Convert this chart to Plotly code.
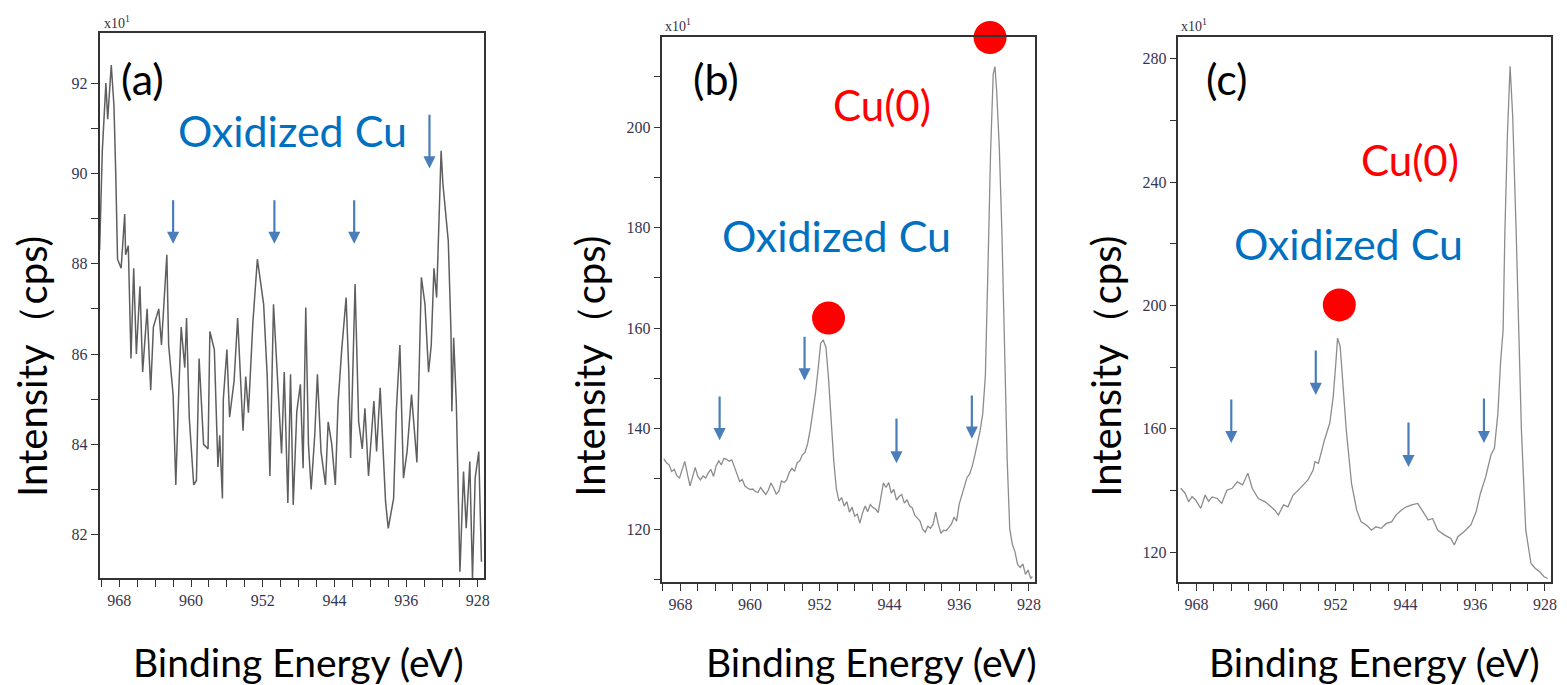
import plotly.graph_objects as go

W, H = 1567, 685

# ---------------- data ----------------
energy_a = [970.2, 969.9, 969.5, 969.3, 968.9, 968.6, 968.4, 968.2, 967.8, 967.4, 967.3, 967.0,
            966.7, 966.4, 966.1, 965.7, 965.4, 964.9, 964.5, 964.2, 963.6, 963.3, 962.7, 962.5,
            962.0, 961.7, 961.4, 961.1, 960.7, 960.5, 960.2, 959.7, 959.4, 959.1, 958.6, 958.1,
            957.9, 957.4, 957.0, 956.8, 956.5, 956.4, 956.0, 955.7, 955.2, 954.8, 954.2, 953.9,
            953.6, 953.1, 952.6, 952.2, 951.9, 951.5, 951.2, 950.8, 950.3, 949.9, 949.6, 949.2,
            948.9, 948.6, 948.2, 947.8, 947.5, 947.2, 946.9, 946.6, 946.2, 945.9, 945.5, 945.0,
            944.7, 944.3, 943.9, 943.6, 943.2, 942.7, 942.4, 942.2, 941.7, 941.3, 940.9, 940.6,
            940.2, 939.6, 939.3, 938.9, 938.3, 938.0, 937.4, 937.1, 936.7, 936.3, 935.9, 935.4,
            934.8, 934.3, 933.9, 933.5, 933.2, 932.9, 932.6, 932.3, 932.1, 931.9, 931.6, 931.3,
            931.0, 930.9, 930.7, 930.4, 930.0, 929.6, 929.3, 928.9, 928.6, 928.3, 927.9, 927.6]
intensity_a = [88.3, 90.5, 92.0, 91.2, 92.4, 91.5, 90.0, 88.1, 87.9, 89.1, 88.2, 88.4,
               85.9, 87.9, 86.0, 87.5, 85.6, 87.0, 85.2, 86.6, 87.0, 86.2, 88.2, 86.2,
               85.1, 83.1, 85.0, 86.6, 85.7, 86.8, 84.6, 83.1, 83.2, 85.9, 84.0, 83.9,
               86.5, 86.1, 83.5, 84.2, 82.8, 85.0, 86.1, 84.6, 85.4, 86.8, 84.3, 85.5,
               84.7, 86.7, 88.1, 87.5, 87.1, 85.5, 83.3, 87.1, 85.3, 83.8, 85.6, 82.7,
               85.55, 82.66, 84.73, 85.33, 83.47, 87.03, 84.0, 83.0, 84.2, 85.55, 83.84, 83.1,
               84.5, 84.0, 83.1, 84.9, 86.07, 87.25, 85.6, 83.7, 87.55, 84.5, 83.9, 84.8,
               83.3, 84.96, 83.84, 85.25, 82.73, 82.14, 82.8, 84.73, 86.2, 83.25, 83.84, 85.1,
               83.6, 87.7, 87.1, 85.6, 86.2, 87.9, 87.25, 89.2, 90.5, 89.77, 89.2, 88.5,
               86.5, 84.73, 86.36, 84.88, 81.18, 83.4, 82.14, 83.62, 81.03, 83.25, 83.84, 81.4]

energy_b = [969.9, 969.6, 969.3, 969.0, 968.7, 968.4, 968.1, 967.8, 967.5, 967.2, 966.9, 966.6,
            966.3, 966.0, 965.7, 965.4, 965.1, 964.8, 964.5, 964.2, 963.9, 963.6, 963.3, 963.0,
            962.7, 962.4, 962.1, 961.8, 961.5, 961.2, 960.9, 960.6, 960.3, 960.0, 959.7, 959.4,
            959.1, 958.8, 958.5, 958.2, 957.9, 957.6, 957.3, 957.0, 956.7, 956.4, 956.1, 955.8,
            955.5, 955.2, 954.9, 954.6, 954.3, 954.0, 953.7, 953.4, 953.1, 952.8, 952.5, 952.2,
            951.9, 951.6, 951.3, 951.0, 950.7, 950.4, 950.1, 949.8, 949.5, 949.2, 948.9, 948.6,
            948.3, 948.0, 947.7, 947.4, 947.1, 946.8, 946.5, 946.2, 945.9, 945.6, 945.3, 945.0,
            944.7, 944.4, 944.1, 943.8, 943.5, 943.2, 942.9, 942.6, 942.3, 942.0, 941.7, 941.4,
            941.1, 940.8, 940.5, 940.2, 939.9, 939.6, 939.3, 939.0, 938.7, 938.4, 938.1, 937.8,
            937.5, 937.2, 936.9, 936.6, 936.3, 936.0, 935.7, 935.4, 935.1, 934.8, 934.5, 934.2,
            933.9, 933.6, 933.3, 933.0, 932.7, 932.4, 932.1, 931.9, 931.7, 931.4, 931.1, 930.8,
            930.5, 930.2, 929.9, 929.6, 929.3, 929.0, 928.7, 928.4, 928.1, 927.8, 927.6]
intensity_b = [134.0, 133.2, 132.8, 131.5, 131.9, 130.6, 130.2, 131.8, 133.5, 131.0, 128.6, 130.4,
               132.3, 130.5, 129.8, 130.6, 130.2, 131.2, 131.9, 130.5, 132.6, 133.6, 132.8, 134.1,
               133.9, 133.5, 133.8, 132.4, 131.0, 129.5, 129.9, 128.6, 128.2, 127.9, 128.0, 127.5,
               127.3, 128.3, 127.6, 126.9, 127.8, 129.2, 128.2, 127.0, 127.5, 129.6, 129.3, 129.8,
               131.3, 132.1, 131.5, 133.2, 133.6, 134.8, 135.3, 137.0, 139.8, 143.2, 147.0, 151.8,
               157.0, 157.6, 156.2, 150.0, 141.5, 133.6, 128.0, 125.6, 126.3, 124.6, 125.5, 123.4,
               124.4, 122.6, 123.0, 121.2, 123.2, 124.6, 123.5, 124.9, 124.3, 124.0, 123.3, 126.0,
               129.2, 128.3, 129.3, 127.2, 127.9, 125.8, 126.5, 126.9, 125.2, 125.9, 124.6, 124.3,
               122.8, 122.2, 121.6, 120.0, 119.4, 120.6, 120.2, 121.0, 123.4, 121.0, 119.2, 119.8,
               119.7, 120.3, 121.0, 122.4, 121.6, 125.0, 126.8, 128.8, 130.3, 131.0, 132.6, 134.8,
               137.0, 139.6, 143.0, 150.5, 172.0, 195.0, 210.5, 212.0, 207.0, 196.0, 179.0, 158.0,
               134.0, 120.0, 117.0, 115.5, 113.0, 112.4, 113.1, 111.0, 111.9, 110.2, 110.6]

energy_c = [969.8, 969.3, 968.9, 968.5, 968.1, 967.5, 967.0, 966.6, 966.2, 965.6, 965.1, 964.5,
            963.9, 963.3, 962.7, 962.1, 961.6, 960.9, 960.1, 959.5, 959.0, 958.6, 958.0, 957.5,
            956.9, 956.3, 955.7, 955.2, 954.6, 954.4, 954.0, 953.7, 953.3, 952.7, 952.3, 952.0,
            951.8, 951.5, 951.2, 950.8, 950.2, 949.6, 949.1, 948.5, 947.9, 947.4, 946.8, 946.2,
            945.6, 945.1, 944.5, 943.9, 943.3, 942.6, 942.0, 941.4, 940.9, 940.3, 939.5, 938.8,
            938.4, 938.0, 937.3, 936.5, 935.9, 935.4, 934.8, 934.2, 933.8, 933.4, 933.1, 932.8,
            932.6, 932.3, 932.0, 931.7, 931.3, 931.0, 930.7, 930.2, 929.6, 929.1, 928.6, 928.1,
            927.7]
intensity_c = [140.7, 139.1, 136.3, 138.0, 136.9, 134.2, 138.5, 136.5, 137.9, 137.4, 135.8, 140.1,
               140.7, 142.8, 141.8, 145.6, 140.7, 137.4, 136.3, 134.7, 133.6, 132.0, 135.3, 134.7,
               138.5, 140.1, 141.8, 143.4, 146.6, 149.3, 148.8, 152.0, 156.4, 161.8, 170.4, 181.3,
               189.4, 186.7, 175.8, 159.6, 142.3, 133.6, 129.8, 128.8, 127.1, 128.2, 127.7, 129.3,
               129.8, 132.0, 133.6, 134.7, 135.3, 135.8, 133.1, 130.4, 130.9, 127.1, 125.5, 124.4,
               122.3, 125.0, 126.6, 128.8, 133.1, 139.1, 144.4, 151.5, 153.7, 165.0, 181.3, 192.1,
               223.5, 255.9, 277.6, 261.3, 223.5, 192.1, 159.6, 127.1, 116.3, 114.7, 113.6, 112.0,
               111.5]

# Cu(0) peak markers
cu0_b_energy = [932.46, 951.0]
cu0_b_int = [217.8, 162.0]
cu0_c_energy = [931.66, 951.6]
cu0_c_int = [287.5, 200.2]

# arrows: (energy, tail intensity, head intensity)
arrows_a = [(962.0, 89.44, 88.44), (950.7, 89.44, 88.44), (941.8, 89.44, 88.44), (933.4, 91.33, 90.11)]
arrows_b = [(963.5, 146.7, 137.7), (953.75, 158.6, 149.6), (943.2, 142.3, 133.1), (934.55, 146.9, 138.0)]
arrows_c = [(964.0, 170.0, 155.4), (954.3, 185.9, 171.0), (943.66, 162.5, 147.6), (935.0, 170.3, 155.4)]

x_tick_labels = ["968", "960", "952", "944", "936", "928"]
y_tick_labels_a = ["82", "84", "86", "88", "90", "92"]
y_tick_labels_b = ["120", "140", "160", "180", "200"]
y_tick_labels_c = ["120", "160", "200", "240", "280"]

# ---------------- figure ----------------
fig = go.Figure()

fig.add_trace(go.Scatter(x=energy_a, y=intensity_a, mode="lines",
                         line=dict(color="#5e5e5e", width=1.5), xaxis="x", yaxis="y"))
fig.add_trace(go.Scatter(x=energy_b, y=intensity_b, mode="lines",
                         line=dict(color="#8c8c8c", width=1.3), xaxis="x2", yaxis="y2"))
fig.add_trace(go.Scatter(x=energy_c, y=intensity_c, mode="lines",
                         line=dict(color="#8c8c8c", width=1.3), xaxis="x3", yaxis="y3"))
fig.add_trace(go.Scatter(x=cu0_b_energy, y=cu0_b_int, mode="markers", cliponaxis=False,
                         marker=dict(color="#ff0000", size=33), xaxis="x2", yaxis="y2"))
fig.add_trace(go.Scatter(x=cu0_c_energy, y=cu0_c_int, mode="markers", cliponaxis=False,
                         marker=dict(color="#ff0000", size=33), xaxis="x3", yaxis="y3"))


def px(x):
    return x / W


def py(y):
    return 1 - y / H


FRAME = "#333333"
TICKFONT = dict(family="Liberation Serif", size=16, color="#363650")
xtickvals = list(range(970, 927, -2))
xticktext = [str(v) if str(v) in x_tick_labels else "" for v in xtickvals]


def xaxis(left, right, rng, anchor):
    return dict(domain=[px(left), px(right)], range=rng, showline=True, linecolor=FRAME,
                linewidth=1.6, mirror=True, ticks="outside", ticklen=7, tickwidth=1.4,
                tickcolor=FRAME, tickvals=xtickvals, ticktext=xticktext, tickfont=TICKFONT,
                showgrid=False, zeroline=False, fixedrange=True, anchor=anchor,
                ticklabeloverflow="allow")


def yaxis(top, bottom, rng, vals, labels, anchor):
    return dict(domain=[py(bottom), py(top)], range=rng, showline=True, linecolor=FRAME,
                linewidth=1.6, mirror=True, ticks="outside", ticklen=7, tickwidth=1.4,
                tickcolor=FRAME, tickvals=vals,
                ticktext=[str(v) if str(v) in labels else "" for v in vals],
                tickfont=TICKFONT, showgrid=False, zeroline=False, anchor=anchor,
                fixedrange=True)


fig.update_layout(
    width=W, height=H, margin=dict(l=0, r=0, t=0, b=0),
    paper_bgcolor="white", plot_bgcolor="white", showlegend=False,
    xaxis=xaxis(100, 486, [970.2, 927.3], "y"),
    xaxis2=xaxis(665, 1039, [970.06, 927.3], "y2"),
    xaxis3=xaxis(1183, 1557, [970.06, 927.3], "y3"),
    yaxis=yaxis(33, 578, [81.04, 93.11], list(range(82, 93)), y_tick_labels_a, "x"),
    yaxis2=yaxis(37, 582, [109.5, 217.9], list(range(110, 211, 10)), y_tick_labels_b, "x2"),
    yaxis3=yaxis(37, 582, [110.3, 287.1], list(range(120, 281, 20)), y_tick_labels_c, "x3"),
)

ann = []
BIG = "Lato"
BLUE = "#0070C0"


def text(x, y, s, size, color="black", angle=0):
    ann.append(dict(x=px(x), y=py(y), xref="paper", yref="paper", text=s, showarrow=False,
                    font=dict(family=BIG, size=size, color=color), textangle=angle,
                    xanchor="center", yanchor="middle"))


# panel labels
text(143, 78, "(a)", 43)
text(719, 78, "(b)", 43)
text(1231, 78, "(c)", 43)
# Oxidized Cu
text(294, 130, "Oxidized Cu", 43, BLUE)
text(840, 235, "Oxidized Cu", 43, BLUE)
text(1354, 243, "Oxidized Cu", 43, BLUE)
# Cu(0)
text(885, 105, "Cu(0)", 42, "#ff0000")
text(1415, 160, "Cu(0)", 42, "#ff0000")
# axis titles
for cx in (300, 875, 1380):
    text(cx, 662, "Binding Energy (eV)", 39)
for cx in (32, 592, 1110):
    text(cx, 366, "Intensity（cps)", 40, angle=-90)

# x10^1 markers
for lx, by in ((102, 33), (666, 36), (1184, 36)):
    ann.append(dict(x=px(lx), y=py(by), xref="paper", yref="paper", text="x10<sup>1</sup>",
                    showarrow=False, xanchor="left", yanchor="bottom",
                    font=dict(family="Liberation Serif", size=14, color="#3a3040")))

# arrows
ARROW = "#4a7ebb"
for arrows, xr, yr in ((arrows_a, "x", "y"), (arrows_b, "x2", "y2"), (arrows_c, "x3", "y3")):
    for e, tail, head in arrows:
        ann.append(dict(x=e, y=head, ax=e, ay=tail, xref=xr, yref=yr, axref=xr, ayref=yr,
                        text="", showarrow=True, arrowhead=2, arrowsize=1.1, arrowwidth=2.2,
                        arrowcolor=ARROW))

fig.update_layout(annotations=ann)
fig.write_html("out.html", config={"displayModeBar": False},
               post_script="document.body.style.margin='0px';document.body.style.overflow='hidden';")
